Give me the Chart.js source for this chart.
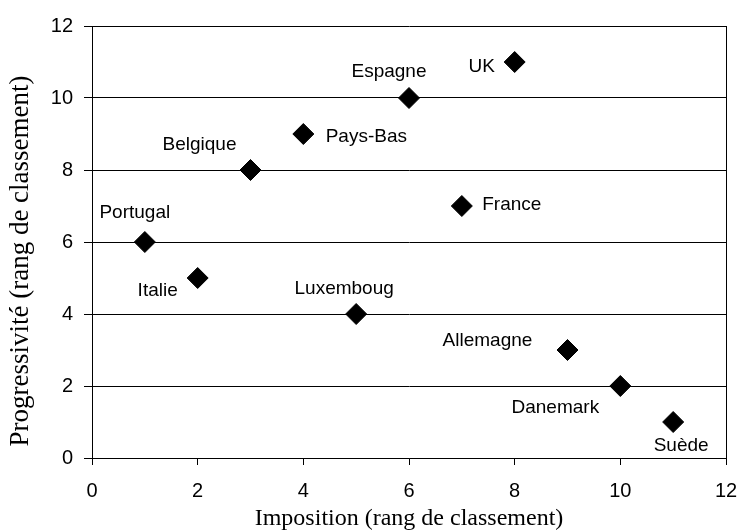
<!DOCTYPE html>
<html lang="fr">
<head>
    <meta charset="UTF-8">
    <title>Imposition et progressivité</title>
    <style>
        body {
            margin: 0;
            background-color: white;
        }
        #chart {
            display: block;
        }
    </style>
    <script src="https://cdn.jsdelivr.net/npm/chart.js"></script>
</head>
<body>
    <canvas id="chart" width="741" height="532"></canvas>

    <script>
        // données
        const pays = ['Portugal', 'Italie', 'Belgique', 'Pays-Bas', 'Luxemboug', 'Espagne', 'France', 'UK', 'Allemagne', 'Danemark', 'Suède'];
        const imposition = [1, 2, 3, 4, 5, 6, 7, 8, 9, 10, 11];
        const progressivite = [6, 5, 8, 9, 4, 10, 7, 11, 3, 2, 1];

        const titreX = 'Imposition (rang de classement)';
        const titreY = 'Progressivité (rang de classement)';

        // décalage des étiquettes par rapport au point (px)
        const decalages = [
            [-10, -29], [-40, 13], [-51, -25], [63, 3], [-12, -25], [-20, -26],
            [50, -1], [-33, 5], [-80, -9], [-65, 22], [8, 24]
        ];

        const sansFont = '"Liberation Sans", Arial, sans-serif';
        const serifFont = '"Liberation Serif", "Times New Roman", serif';

        const etiquettes = {
            id: 'etiquettes',
            afterDatasetsDraw(chart) {
                const ctx = chart.ctx;
                const meta = chart.getDatasetMeta(0);
                ctx.save();
                ctx.font = '19px ' + sansFont;
                ctx.fillStyle = '#000';
                ctx.textAlign = 'center';
                ctx.textBaseline = 'middle';
                meta.data.forEach((pt, i) => {
                    const d = decalages[i];
                    ctx.fillText(pays[i], pt.x + d[0], pt.y + d[1]);
                });
                ctx.restore();
            }
        };

        const cadre = {
            id: 'cadre',
            afterDraw(chart) {
                const a = chart.chartArea;
                const ctx = chart.ctx;
                ctx.save();
                ctx.strokeStyle = '#000';
                ctx.lineWidth = 1;
                ctx.beginPath();
                ctx.moveTo(Math.round(a.right) + 0.5, a.top);
                ctx.lineTo(Math.round(a.right) + 0.5, a.bottom);
                ctx.stroke();

                // titre de l'axe vertical
                ctx.font = '27px ' + serifFont;
                ctx.fillStyle = '#000';
                ctx.textAlign = 'center';
                ctx.textBaseline = 'middle';
                ctx.translate(21, 261);
                ctx.rotate(-Math.PI / 2);
                ctx.fillText(titreY, 0, 0);
                ctx.restore();
            }
        };

        window.onload = function() {
            const ctx = document.getElementById('chart').getContext('2d');

            new Chart(ctx, {
                type: 'scatter',
                data: {
                    datasets: [{
                        data: imposition.map((x, i) => ({ x: x, y: progressivite[i] })),
                        pointStyle: 'rectRot',
                        pointRadius: 10.5,
                        backgroundColor: '#000',
                        borderColor: '#000',
                        borderWidth: 1
                    }]
                },
                options: {
                    responsive: false,
                    animation: false,
                    layout: {
                        padding: { left: 0, top: 26, right: 15, bottom: 0 }
                    },
                    scales: {
                        x: {
                            type: 'linear',
                            min: 0,
                            max: 12,
                            afterFit: s => {
                                s.height = 74;
                                s.paddingLeft = 0;
                                s.paddingRight = 0;
                            },
                            ticks: {
                                stepSize: 2,
                                padding: 14,
                                color: '#000',
                                font: { family: sansFont, size: 20 }
                            },
                            grid: {
                                drawOnChartArea: false,
                                drawTicks: true,
                                tickLength: 7,
                                color: '#000'
                            },
                            border: { display: true, color: '#000', width: 1 },
                            title: {
                                display: true,
                                text: titreX,
                                color: '#000',
                                font: { family: serifFont, size: 24, lineHeight: 1 },
                                padding: { top: 0, bottom: 1 }
                            }
                        },
                        y: {
                            type: 'linear',
                            min: 0,
                            max: 12,
                            afterFit: s => {
                                s.width = 92;
                                s.paddingTop = 0;
                                s.paddingBottom = 0;
                            },
                            ticks: {
                                stepSize: 2,
                                padding: 11,
                                color: '#000',
                                font: { family: sansFont, size: 20 }
                            },
                            grid: {
                                drawOnChartArea: true,
                                drawTicks: true,
                                tickLength: 8,
                                color: '#000'
                            },
                            border: { display: true, color: '#000', width: 1 }
                        }
                    },
                    plugins: {
                        legend: { display: false },
                        tooltip: { enabled: false }
                    }
                },
                plugins: [etiquettes, cadre]
            });
        };
    </script>
</body>
</html>
